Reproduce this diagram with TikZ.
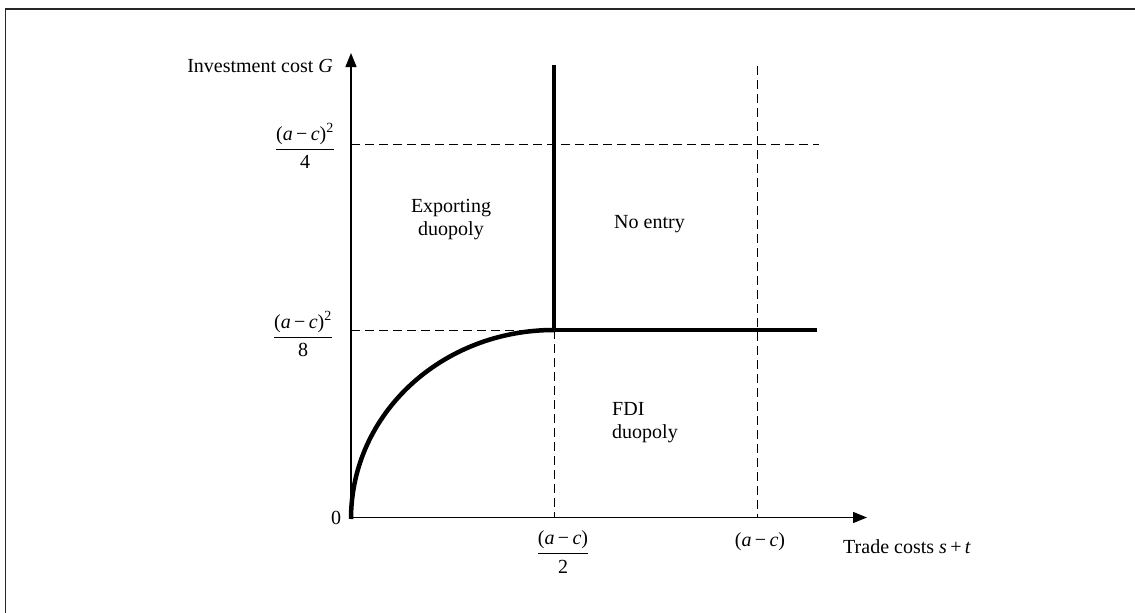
\documentclass[tikz,border=0pt]{standalone}
\usepackage{fontspec}
\setmainfont{Liberation Serif}
\usetikzlibrary{arrows.meta}
\newcommand{\mi}[1]{\textit{#1}}
\newcommand{\amc}{(\mi{a}\,−\,\mi{c})}
\begin{document}
\begin{tikzpicture}[x=1pt,y=-1pt,
  lbl/.style={font=\fontsize{20}{23}\selectfont, inner sep=0pt},
  region/.style={font=\fontsize{20}{23}\selectfont, inner sep=0pt},
  thickline/.style={line width=4.5pt},
  dashline/.style={line width=1pt, dash pattern=on 9pt off 5pt},
  axisline/.style={line width=1.3pt, -{Triangle[length=14pt,width=11pt]}},
  frameline/.style={line width=1.6pt, black!85}]
\useasboundingbox (0,0) rectangle (1135,613);
% frame (top and left edges)
\coordinate (FTR) at (1135,9);
\coordinate (FTL) at (5.5,9);
\coordinate (FBL) at (5.5,613);
\draw[frameline] (FTR) -- (FTL) -- (FBL);
% key points
\coordinate (O) at (351,517.5);
\coordinate (Ytop) at (351,53);
\coordinate (Xend) at (867,517.5);
\coordinate (K) at (554,330);
\coordinate (KT) at (554,65);
\coordinate (KB) at (554,517.5);
\coordinate (HR) at (817,330);
\coordinate (Y8) at (351,330);
\coordinate (Y4) at (351,144);
\coordinate (Y4R) at (819,144);
\coordinate (AT) at (757,66);
\coordinate (AB) at (757,517.5);
% dashed guides
\draw[dashline] (Y8) -- (K);
\draw[dashline] (K) -- (KB);
\draw[dashline] (Y4) -- (Y4R);
\draw[dashline] (AT) -- (AB);
% axes
\draw[axisline] (O) -- (Ytop);
\draw[axisline] (O) -- (Xend);
% boundaries
\draw[thickline] (351,519) .. controls (351,413.7) and (441.9,330) .. (K);
\draw[thickline] (KT) -- (K) -- (HR);
% axis labels
\node[lbl, anchor=base east] (ylab) at (333,72) {Investment cost \mi{G}};
\node[lbl, anchor=base west] (xlab) at (843,553) {Trade costs \mi{s}\,+\,\mi{t}};
\node[lbl, anchor=base] (zero) at (336,524) {0};
\node[lbl] (f4) at (305,146) {$\displaystyle\frac{\mbox{\amc\textsuperscript{2}}}{\mbox{4}}$};
\node[lbl] (f8) at (303,334) {$\displaystyle\frac{\mbox{\amc\textsuperscript{2}}}{\mbox{8}}$};
\node[lbl] (f2) at (563,552) {$\displaystyle\frac{\mbox{\amc}}{\mbox{2}}$};
\node[lbl, anchor=base] (ac) at (760,546) {\amc};
% regions
\node[region, align=center] (exp) at (451,220) {Exporting\\duopoly};
\node[region, anchor=base] (noe) at (649.5,228) {No entry};
\node[region, align=left, anchor=north west] (fdi) at (612,402) {FDI\\duopoly};
\end{tikzpicture}
\end{document}
